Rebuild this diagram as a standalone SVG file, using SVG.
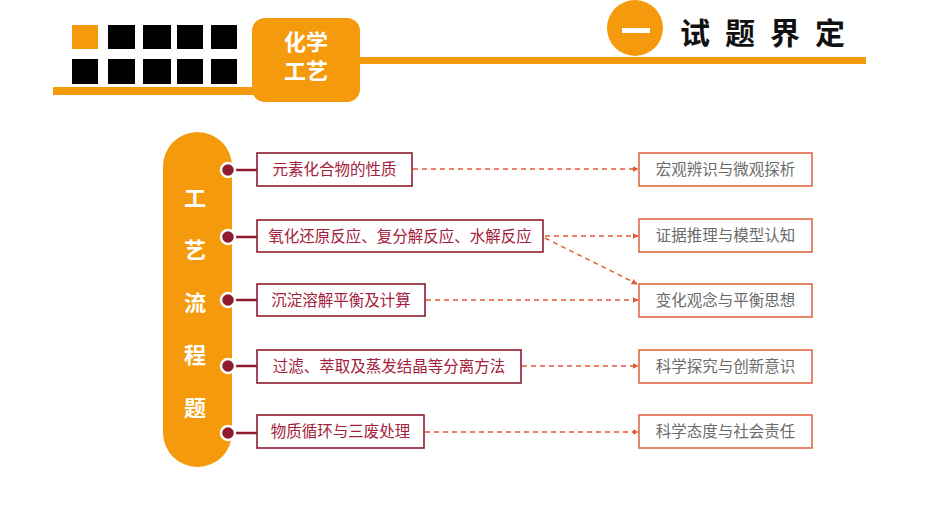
<svg xmlns="http://www.w3.org/2000/svg" width="930" height="522" viewBox="0 0 930 522">
<style>
.or{fill:#F59A0C}
.blk{fill:#000}
.wt{fill:#fff;font-family:"Noto Sans CJK SC",sans-serif;font-weight:bold;text-anchor:middle}
.lb rect{fill:#fff;stroke:#8E1C2E;stroke-width:1.6}
.lb text{fill:#A3213B;font-family:"Noto Sans CJK SC",sans-serif;font-size:15.5px;text-anchor:middle}
.rb rect{fill:#fff;stroke:#E06A45;stroke-width:1.6}
.rb text{fill:#6b6b6b;font-family:"Noto Sans CJK SC",sans-serif;font-size:15.5px;text-anchor:middle}
.dot{fill:#8E1C2E;stroke:#fff;stroke-width:2.5}
.stub{stroke:#8E1C2E;stroke-width:2.5}
.dash{stroke:#E05A35;stroke-width:1.4;stroke-dasharray:5 4;fill:none;marker-end:url(#ah)}
</style>
<defs>
<marker id="ah" viewBox="0 0 10 10" refX="9" refY="5" markerWidth="6" markerHeight="6" orient="auto" markerUnits="userSpaceOnUse">
<path d="M0,0 L10,5 L0,10 z" fill="#E05A35"/>
</marker>
</defs>
<rect width="930" height="522" fill="#fff"/>
<g id="header">
<rect class="or" x="72" y="25" width="26" height="24"/>
<rect class="blk" x="108" y="25" width="27" height="24"/>
<rect class="blk" x="143" y="25" width="28" height="24"/>
<rect class="blk" x="177" y="25" width="26" height="24"/>
<rect class="blk" x="211" y="25" width="26" height="24"/>
<rect class="blk" x="72" y="59" width="26" height="25"/>
<rect class="blk" x="108" y="59" width="27" height="25"/>
<rect class="blk" x="143" y="59" width="28" height="25"/>
<rect class="blk" x="177" y="59" width="26" height="25"/>
<rect class="blk" x="211" y="59" width="26" height="25"/>
<rect class="or" x="53" y="87" width="210" height="8"/>
<rect class="or" x="350" y="57" width="516" height="7"/>
<rect class="or" x="252" y="18" width="108" height="84" rx="13"/>
<text class="wt" x="306" y="50" font-size="22">化学</text>
<text class="wt" x="306" y="79" font-size="22">工艺</text>
<circle class="or" cx="635" cy="28" r="28"/>
<rect x="622" y="28" width="28" height="5" fill="#fff"/>
<text x="680" y="44" font-family="'Noto Sans CJK SC',sans-serif" font-weight="bold" font-size="30" letter-spacing="15" fill="#111">试题界定</text>
</g>
<g id="pill">
<rect class="or" x="163" y="132" width="69" height="335" rx="34.5"/>
<text class="wt" x="195" y="206" font-size="22">工</text>
<text class="wt" x="195" y="258" font-size="22">艺</text>
<text class="wt" x="195" y="311" font-size="22">流</text>
<text class="wt" x="195" y="363" font-size="22">程</text>
<text class="wt" x="195" y="416" font-size="22">题</text>
</g>
<g id="connectors">
<line class="stub" x1="228" y1="170" x2="258" y2="170"/>
<line class="stub" x1="228" y1="237" x2="258" y2="237"/>
<line class="stub" x1="228" y1="300" x2="258" y2="300"/>
<line class="stub" x1="228" y1="366" x2="258" y2="366"/>
<line class="stub" x1="228" y1="433" x2="258" y2="433"/>
<circle class="dot" cx="228" cy="170" r="7"/>
<circle class="dot" cx="228" cy="237" r="7"/>
<circle class="dot" cx="228" cy="300" r="7"/>
<circle class="dot" cx="228" cy="366" r="7"/>
<circle class="dot" cx="228" cy="433" r="7"/>
<line class="dash" x1="413" y1="169" x2="638" y2="169"/>
<line class="dash" x1="545" y1="236" x2="638" y2="236"/>
<line class="dash" x1="545" y1="238" x2="637" y2="284"/>
<line class="dash" x1="426" y1="300" x2="638" y2="300"/>
<line class="dash" x1="522" y1="366" x2="638" y2="366"/>
<line class="dash" x1="425" y1="432" x2="638" y2="432"/>
</g>
<g id="l1" class="lb"><rect x="257" y="153" width="155" height="33"/><text x="334.5" y="175">元素化合物的性质</text></g>
<g id="l2" class="lb"><rect x="257" y="220" width="286" height="32"/><text x="400" y="242">氧化还原反应、复分解反应、水解反应</text></g>
<g id="l3" class="lb"><rect x="257" y="284" width="168" height="32"/><text x="341" y="306">沉淀溶解平衡及计算</text></g>
<g id="l4" class="lb"><rect x="257" y="350" width="264" height="33"/><text x="389" y="372">过滤、萃取及蒸发结晶等分离方法</text></g>
<g id="l5" class="lb"><rect x="257" y="415" width="167" height="33"/><text x="340.5" y="437">物质循环与三废处理</text></g>
<g id="r1" class="rb"><rect x="639" y="153" width="173" height="33"/><text x="725.5" y="175">宏观辨识与微观探析</text></g>
<g id="r2" class="rb"><rect x="639" y="219" width="173" height="33"/><text x="725.5" y="241">证据推理与模型认知</text></g>
<g id="r3" class="rb"><rect x="639" y="284" width="173" height="33"/><text x="725.5" y="306">变化观念与平衡思想</text></g>
<g id="r4" class="rb"><rect x="639" y="350" width="173" height="33"/><text x="725.5" y="372">科学探究与创新意识</text></g>
<g id="r5" class="rb"><rect x="639" y="415" width="173" height="33"/><text x="725.5" y="437">科学态度与社会责任</text></g>
</svg>
